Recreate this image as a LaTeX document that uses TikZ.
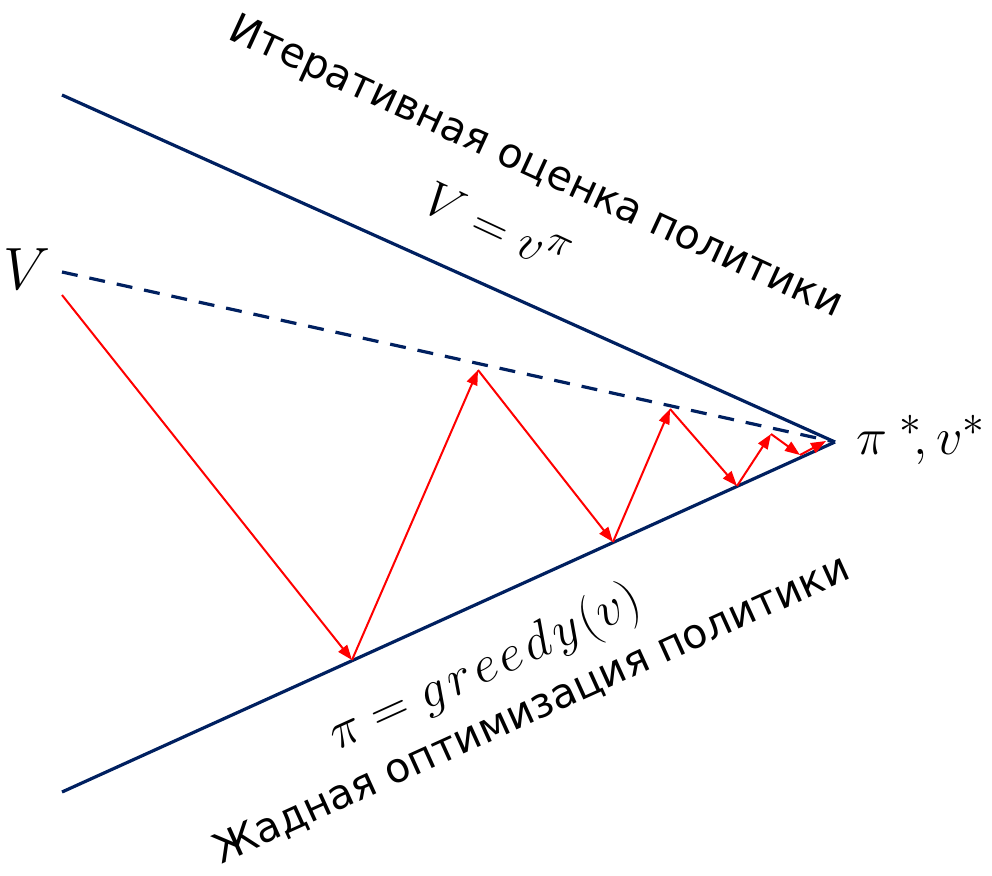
\documentclass[tikz,border=0pt]{standalone}
\usepackage{graphicx}
\usepackage{fontspec}
\setmainfont{DejaVu Sans}
\usetikzlibrary{arrows.meta}
\definecolor{navy}{RGB}{0,32,96}
\definecolor{redarrow}{RGB}{255,0,0}
\newcommand{\bigmath}[2]{{\fontsize{24.88}{30}\selectfont\scalebox{#1}{$#2$}}}
\tikzset{
  axisline/.style={draw=navy, line width=3.2pt},
  dashline/.style={draw=navy, line width=3.2pt, dash pattern=on 16pt off 12pt},
  redarr/.style={draw=redarrow, line width=2pt, -{Triangle[length=15pt,width=11pt]}},
  lbl/.style={inner sep=0pt, font=\fontsize{41}{48}\selectfont},
  mathlbl/.style={inner sep=0pt},
}
\begin{document}
\begin{tikzpicture}[x=1pt,y=-1pt]
\useasboundingbox (0,0) rectangle (992,875);
% key points
\coordinate (A) at (62,95);
\coordinate (B) at (62,792);
\coordinate (O) at (835,442);
\coordinate (D) at (62,272);
\coordinate (P0) at (62,295);
\coordinate (P1) at (352,660);
\coordinate (P2) at (478,370);
\coordinate (P3) at (613,542);
\coordinate (P4) at (670,409);
\coordinate (P5) at (737,486);
\coordinate (P6) at (771,434);
\coordinate (P7) at (800,455);
\coordinate (P8) at (826,441);
% lines
\draw[axisline] (A) -- (O);
\draw[axisline] (B) -- (O);
\draw[dashline] (D) -- (O);
% red arrows
\draw[redarr] (P0) -- (P1);
\draw[redarr] (P1) -- (P2);
\draw[redarr] (P2) -- (P3);
\draw[redarr] (P3) -- (P4);
\draw[redarr] (P4) -- (P5);
\draw[redarr] (P5) -- (P6);
\draw[redarr] (P6) -- (P7);
\draw[redarr] (P7) -- (P8);
% labels
\node[mathlbl] (vl) at (27,269) {\bigmath{2.4}{V}};
\node[mathlbl, anchor=west] (star) at (856,440) {\bigmath{2.1}{\pi^{\;*}\!, v^{*}}};
\node[lbl, anchor=base, rotate=-24.7] (top) at (531,178) {Итеративная оценка политики};
\node[mathlbl, anchor=base, rotate=-25] (veq) at (490,243) {\bigmath{2.0}{V = v^{\pi}}};
\node[mathlbl, anchor=base, rotate=24.4] (peq) at (491,681) {\bigmath{2.1}{\pi = g\mkern1.5mu r\mkern1.5mu e\mkern1.5mu e\mkern1.5mu d\mkern1.5mu y\mkern1mu(v)}};
\node[lbl, anchor=base, rotate=24.4] (bot) at (537,721) {Жадная оптимизация политики};
\end{tikzpicture}
\end{document}
